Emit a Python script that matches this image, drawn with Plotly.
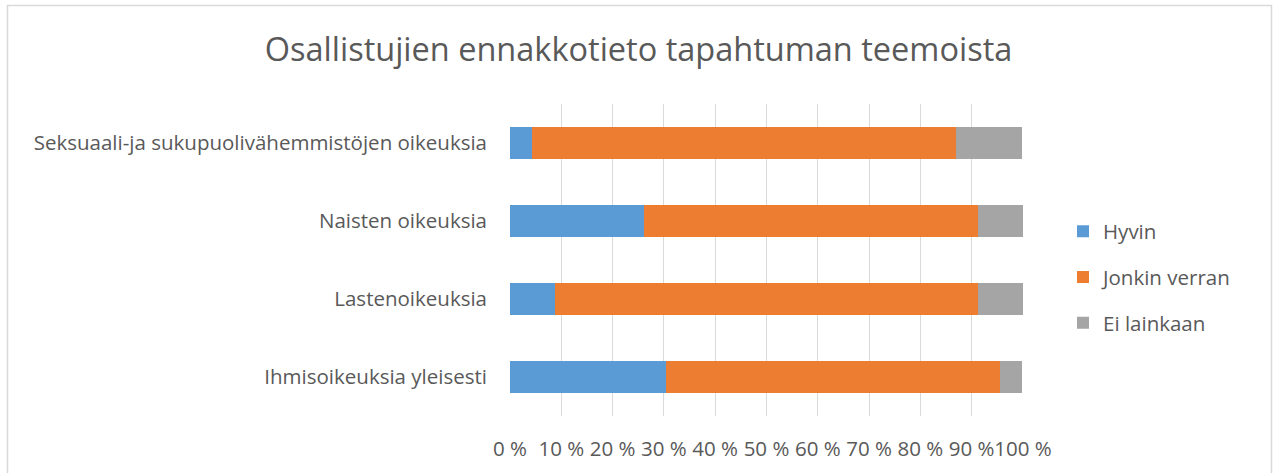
import plotly.graph_objects as go

# data (percent of respondents), bottom to top as drawn
categories = ["Ihmisoikeuksia yleisesti", "Lastenoikeuksia", "Naisten oikeuksia",
              "Seksuaali-ja sukupuolivähemmistöjen oikeuksia"]
hyvin = [30.4, 8.7, 26.1, 4.3]
jonkin_verran = [65.2, 82.6, 65.2, 82.6]
ei_lainkaan = [4.3, 8.7, 8.7, 13.0]
x_ticks = [0, 10, 20, 30, 40, 50, 60, 70, 80, 90, 100]

W, H = 1277, 473
L, R, T, B = 510, 1023, 104, 416
FONT = "Open Sans"
GREY = "#595959"
FS = 20.5

fig = go.Figure()
for name, vals, col in [("Hyvin", hyvin, "#5b9bd5"),
                        ("Jonkin verran", jonkin_verran, "#ed7d31"),
                        ("Ei lainkaan", ei_lainkaan, "#a5a5a5")]:
    fig.add_trace(go.Bar(y=categories, x=vals, name=name, orientation="h",
                         legendgroup=name,
                         marker=dict(color=col, line=dict(width=0))))


def px_x(p):
    return (p - L) / (R - L)


def px_y(p):
    return (B - p) / (B - T)


fig.update_layout(
    width=W, height=H,
    barmode="stack", bargap=0.6,
    paper_bgcolor="white", plot_bgcolor="white",
    margin=dict(l=L, r=W - R, t=T, b=H - B, autoexpand=False),
    font=dict(family=FONT, color=GREY, size=FS),
    title=dict(text="Osallistujien ennakkotieto tapahtuman teemoista",
               x=0.5, xref="container", xanchor="center", y=1 - 50 / H, yanchor="middle",
               font=dict(size=32.5, color=GREY, family=FONT)),
    xaxis=dict(range=[0, 100], tickvals=x_ticks,
               ticktext=[f"{v} %" for v in x_ticks],
               tickangle=0,
               showgrid=True, gridcolor="#d9d9d9", gridwidth=1,
               zeroline=False, showline=False, ticks="", ticklen=0,
               ticklabelstandoff=18,
               tickfont=dict(size=FS, color=GREY)),
    yaxis=dict(showgrid=False, zeroline=False, showline=False, ticks="",
               ticklabelstandoff=22, tickfont=dict(size=FS, color=GREY)),
    legend=dict(x=px_x(1063), xanchor="left", y=px_y(277), yanchor="middle",
                traceorder="grouped", tracegroupgap=16, itemwidth=30,
                font=dict(size=FS, color=GREY)),
    shapes=[dict(type="rect", xref="paper", yref="paper",
                 x0=px_x(7.5), x1=px_x(1271.5), y0=px_y(490), y1=px_y(5.5),
                 line=dict(color="#d9d9d9", width=1.5), layer="below")],
)

fig.write_html("out.html", config={"displayModeBar": False},
               post_script="document.body.style.margin='0';")
